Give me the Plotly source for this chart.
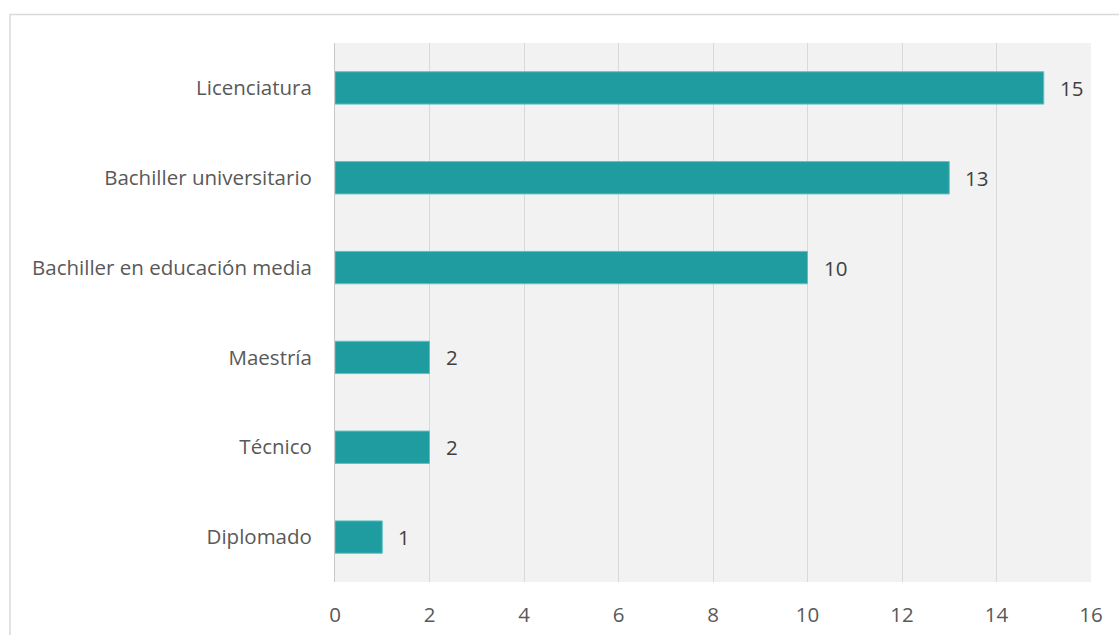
import plotly.graph_objects as go

# Nivel académico y número de personas
niveles = ["Diplomado", "Técnico", "Maestría", "Bachiller en educación media",
           "Bachiller universitario", "Licenciatura"]
cantidades = [1, 2, 2, 10, 13, 15]
x_ticks = [0, 2, 4, 6, 8, 10, 12, 14, 16]

BAR_COLOR = "#1f9ca0"
TEXT_COLOR = "#595959"
LABEL_COLOR = "#404040"
FONT = "Open Sans"
FONT_SIZE = 20.5

fig = go.Figure(
    go.Bar(
        y=niveles,
        x=cantidades,
        orientation="h",
        marker=dict(color=BAR_COLOR, line=dict(color="#5fc0c3", width=1)),
        hoverinfo="x+y",
    )
)

# Etiquetas de valor a la derecha de cada barra
for nivel, valor in zip(niveles, cantidades):
    fig.add_annotation(
        x=valor,
        y=nivel,
        xref="x",
        yref="y",
        text=str(valor),
        showarrow=False,
        xanchor="left",
        xshift=14,
        font=dict(family=FONT, size=FONT_SIZE, color=LABEL_COLOR),
    )

fig.update_layout(
    width=1119,
    height=635,
    margin=dict(l=335, r=28, t=43, b=53),
    paper_bgcolor="white",
    plot_bgcolor="#f2f2f2",
    bargap=0.64,
    showlegend=False,
    font=dict(family=FONT, size=FONT_SIZE, color=TEXT_COLOR),
    xaxis=dict(
        range=[0, 16],
        tickvals=x_ticks,
        showgrid=True,
        gridcolor="#d9d9d9",
        gridwidth=1,
        zeroline=False,
        showline=False,
        ticks="",
        ticklabelstandoff=18,
        tickfont=dict(family=FONT, size=FONT_SIZE, color=TEXT_COLOR),
        automargin=False,
        fixedrange=True,
    ),
    yaxis=dict(
        showgrid=False,
        showline=True,
        linecolor="#c8c8c8",
        linewidth=1,
        ticks="",
        ticklabelstandoff=18,
        tickfont=dict(family=FONT, size=FONT_SIZE, color=TEXT_COLOR),
        automargin=False,
        fixedrange=True,
    ),
    shapes=[
        dict(
            type="rect",
            xref="paper",
            yref="paper",
            x0=(10 - 335) / 756,
            x1=(1130 - 335) / 756,
            y0=(582 - 645) / 539,
            y1=(582 - 14.5) / 539,
            line=dict(color="#d9d9d9", width=1.5),
            fillcolor="rgba(0,0,0,0)",
            layer="below",
        )
    ],
)

fig.write_html("out.html")
